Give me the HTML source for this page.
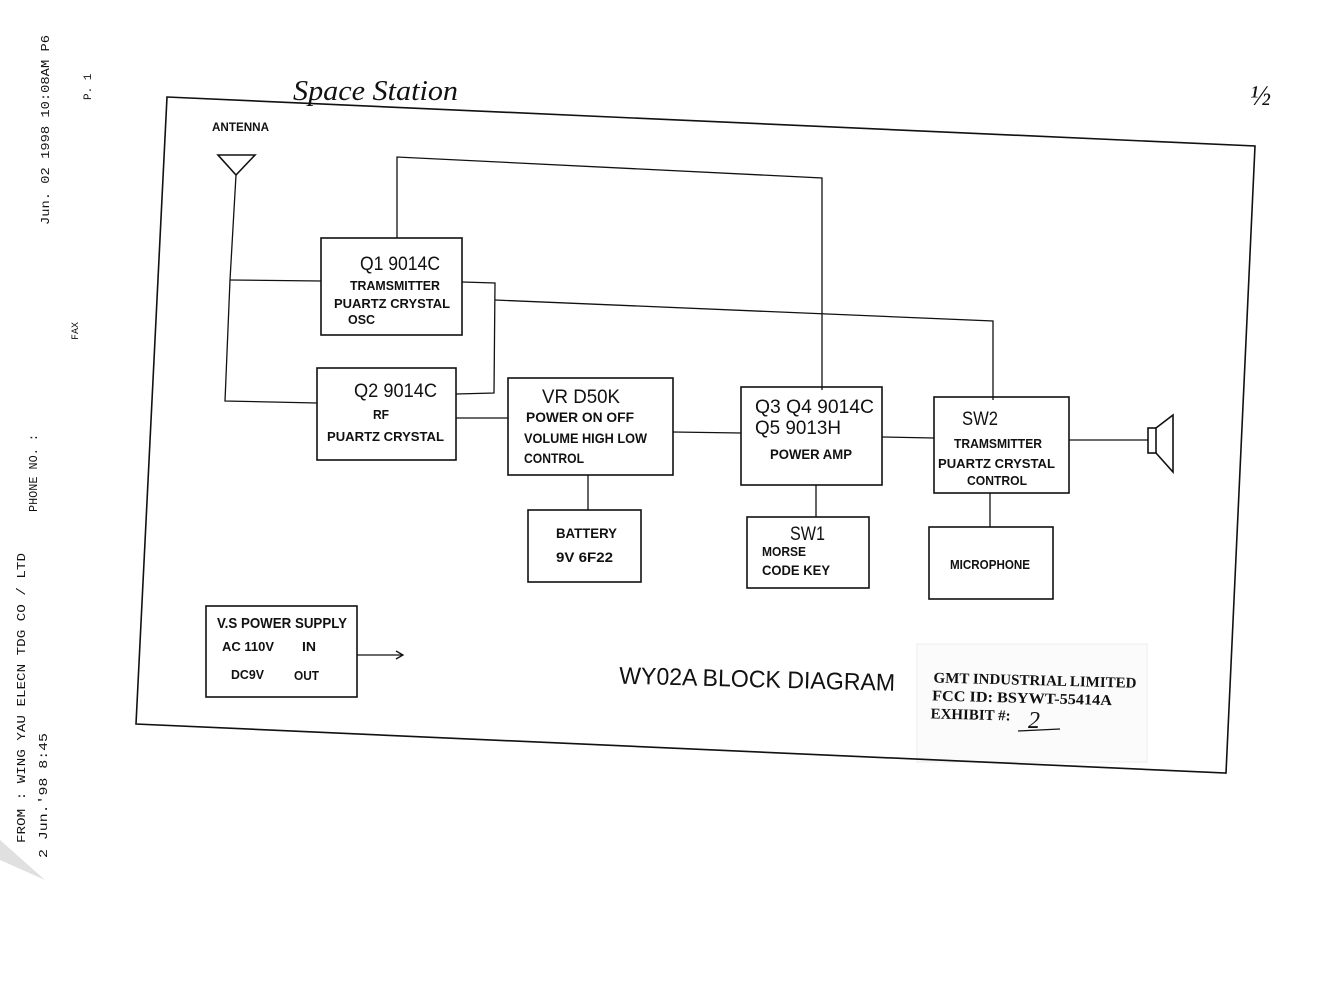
<!DOCTYPE html>
<html><head><meta charset="utf-8"><style>
html,body{margin:0;padding:0;background:#fff;}
svg{display:block;}
text{font-family:"Liberation Sans",sans-serif;fill:#111;}
.b{fill:none;stroke:#111;stroke-width:1.6;}
.l{fill:none;stroke:#111;stroke-width:1.3;}
</style></head><body>
<svg width="1329" height="992" viewBox="0 0 1329 992" xmlns="http://www.w3.org/2000/svg">
<rect width="1329" height="992" fill="#fff"/>
<g style="font-family:'Liberation Mono',monospace" fill="#222">
<text transform="translate(49,225) rotate(-90)" font-size="12" textLength="190" lengthAdjust="spacingAndGlyphs" style="font-family:'Liberation Mono',monospace">Jun. 02 1998 10:08AM P6</text>
<text transform="translate(91,100) rotate(-90)" font-size="11" style="font-family:'Liberation Mono',monospace">P. 1</text>
<text transform="translate(78,340) rotate(-90)" font-size="10" style="font-family:'Liberation Mono',monospace">FAX</text>
<text transform="translate(37,512) rotate(-90)" font-size="12" textLength="78" lengthAdjust="spacingAndGlyphs" style="font-family:'Liberation Mono',monospace">PHONE NO. :</text>
<text transform="translate(25,843) rotate(-90)" font-size="12" textLength="290" lengthAdjust="spacingAndGlyphs" style="font-family:'Liberation Mono',monospace">FROM : WING YAU ELECN TDG CO / LTD</text>
<text transform="translate(47,858) rotate(-90)" font-size="12" textLength="125" lengthAdjust="spacingAndGlyphs" style="font-family:'Liberation Mono',monospace">2 Jun.'98  8:45</text>
</g>
<path d="M0,840 L45,880 L0,860 Z" fill="#ccc" opacity="0.6"/>
<text x="293" y="100" textLength="165" lengthAdjust="spacingAndGlyphs" style="font-family:'Liberation Serif',serif;font-style:italic;font-size:28px">Space Station</text>
<text x="1250" y="105" style="font-family:'Liberation Serif',serif;font-style:italic;font-size:28px">½</text>
<!-- stamp -->
<rect x="917" y="644" width="230" height="118" fill="#fbfbfb" stroke="#eee"/>
<polygon points="167,97 1255,146 1226,773 136,724" class="b"/>
<polygon points="218,155 255,155 236,175" class="b"/>
<text x="212" y="131" font-size="12" font-weight="bold" textLength="57" lengthAdjust="spacingAndGlyphs">ANTENNA</text>
<polyline points="236,175 230,280 225,401 317,403" class="l"/>
<line x1="230" y1="280" x2="321" y2="281" class="l"/>
<polyline points="397,238 397,157 822,178 822,390" class="l"/>
<polyline points="462,282 495,283 494,393 456,394" class="l"/>
<polyline points="495,300 993,321 993,400" class="l"/>
<g font-weight="bold">
<rect x="321" y="238" width="141" height="97" class="b"/>
<text x="360" y="270" font-size="19" font-weight="normal" textLength="80" lengthAdjust="spacingAndGlyphs">Q1 9014C</text>
<text x="350" y="290" font-size="13" textLength="90" lengthAdjust="spacingAndGlyphs">TRAMSMITTER</text>
<text x="334" y="308" font-size="13" textLength="116" lengthAdjust="spacingAndGlyphs">PUARTZ CRYSTAL</text>
<text x="348" y="324" font-size="13" textLength="27" lengthAdjust="spacingAndGlyphs">OSC</text>
<rect x="317" y="368" width="139" height="92" class="b"/>
<text x="354" y="397" font-size="19" font-weight="normal" textLength="83" lengthAdjust="spacingAndGlyphs">Q2 9014C</text>
<text x="373" y="419" font-size="13" textLength="16" lengthAdjust="spacingAndGlyphs">RF</text>
<text x="327" y="441" font-size="13" textLength="117" lengthAdjust="spacingAndGlyphs">PUARTZ CRYSTAL</text>
<line x1="456" y1="418" x2="508" y2="418" class="l"/>
<rect x="508" y="378" width="165" height="97" class="b"/>
<text x="542" y="403" font-size="19" font-weight="normal" textLength="78" lengthAdjust="spacingAndGlyphs">VR D50K</text>
<text x="526" y="422" font-size="14" textLength="108" lengthAdjust="spacingAndGlyphs">POWER  ON OFF</text>
<text x="524" y="443" font-size="14" textLength="123" lengthAdjust="spacingAndGlyphs">VOLUME HIGH LOW</text>
<text x="524" y="463" font-size="14" textLength="60" lengthAdjust="spacingAndGlyphs">CONTROL</text>
<line x1="673" y1="432" x2="741" y2="433" class="l"/>
<line x1="588" y1="475" x2="588" y2="510" class="l"/>
<rect x="528" y="510" width="113" height="72" class="b"/>
<text x="556" y="538" font-size="14" textLength="61" lengthAdjust="spacingAndGlyphs">BATTERY</text>
<text x="556" y="562" font-size="14" textLength="57" lengthAdjust="spacingAndGlyphs">9V 6F22</text>
<rect x="741" y="387" width="141" height="98" class="b"/>
<text x="755" y="413" font-size="19" font-weight="normal" textLength="119" lengthAdjust="spacingAndGlyphs">Q3 Q4 9014C</text>
<text x="755" y="434" font-size="19" font-weight="normal" textLength="86" lengthAdjust="spacingAndGlyphs">Q5 9013H</text>
<text x="770" y="459" font-size="14" textLength="82" lengthAdjust="spacingAndGlyphs">POWER AMP</text>
<line x1="816" y1="485" x2="816" y2="517" class="l"/>
<rect x="747" y="517" width="122" height="71" class="b"/>
<text x="790" y="540" font-size="19" font-weight="normal" textLength="35" lengthAdjust="spacingAndGlyphs">SW1</text>
<text x="762" y="556" font-size="13" textLength="44" lengthAdjust="spacingAndGlyphs">MORSE</text>
<text x="762" y="575" font-size="14" textLength="68" lengthAdjust="spacingAndGlyphs">CODE KEY</text>
<line x1="882" y1="437" x2="934" y2="438" class="l"/>
<rect x="934" y="397" width="135" height="96" class="b"/>
<text x="962" y="425" font-size="19" font-weight="normal" textLength="36" lengthAdjust="spacingAndGlyphs">SW2</text>
<text x="954" y="448" font-size="13" textLength="88" lengthAdjust="spacingAndGlyphs">TRAMSMITTER</text>
<text x="938" y="468" font-size="13" textLength="117" lengthAdjust="spacingAndGlyphs">PUARTZ CRYSTAL</text>
<text x="967" y="485" font-size="13" textLength="60" lengthAdjust="spacingAndGlyphs">CONTROL</text>
<line x1="990" y1="493" x2="990" y2="527" class="l"/>
<rect x="929" y="527" width="124" height="72" class="b"/>
<text x="950" y="569" font-size="13" textLength="80" lengthAdjust="spacingAndGlyphs">MICROPHONE</text>
<line x1="1069" y1="440" x2="1148" y2="440" class="l"/>
<rect x="1148" y="428" width="8" height="25" class="b"/>
<polyline points="1156,428 1173,415 1173,472 1156,453" class="b"/>
<rect x="206" y="606" width="151" height="91" class="b"/>
<text x="217" y="628" font-size="15" textLength="130" lengthAdjust="spacingAndGlyphs">V.S POWER SUPPLY</text>
<text x="222" y="651" font-size="13" textLength="52" lengthAdjust="spacingAndGlyphs">AC 110V</text>
<text x="302" y="651" font-size="13" textLength="14" lengthAdjust="spacingAndGlyphs">IN</text>
<text x="231" y="679" font-size="13" textLength="33" lengthAdjust="spacingAndGlyphs">DC9V</text>
<text x="294" y="680" font-size="13" textLength="25" lengthAdjust="spacingAndGlyphs">OUT</text>
</g>
<line x1="357" y1="655" x2="402" y2="655" class="l"/>
<polyline points="396,651 403,655 396,659" class="l"/>
<text x="619" y="687" font-size="24" textLength="276" lengthAdjust="spacingAndGlyphs" transform="rotate(1.5 750 685)">WY02A  BLOCK DIAGRAM</text>
<g transform="rotate(1.5 1030 700)" font-weight="bold">
<text x="933" y="685" style="font-family:'Liberation Serif',serif" font-size="15" textLength="203" lengthAdjust="spacingAndGlyphs">GMT INDUSTRIAL LIMITED</text>
<text x="932" y="703" style="font-family:'Liberation Serif',serif" font-size="15" textLength="180" lengthAdjust="spacingAndGlyphs">FCC ID:  BSYWT-55414A</text>
<text x="931" y="721" style="font-family:'Liberation Serif',serif" font-size="15" textLength="80" lengthAdjust="spacingAndGlyphs">EXHIBIT #:</text>
</g>
<text x="1028" y="728" style="font-family:'Liberation Serif',serif;font-style:italic;font-size:24px">2</text>
<line x1="1018" y1="731" x2="1060" y2="729" class="l"/>
</svg>
</body></html>
